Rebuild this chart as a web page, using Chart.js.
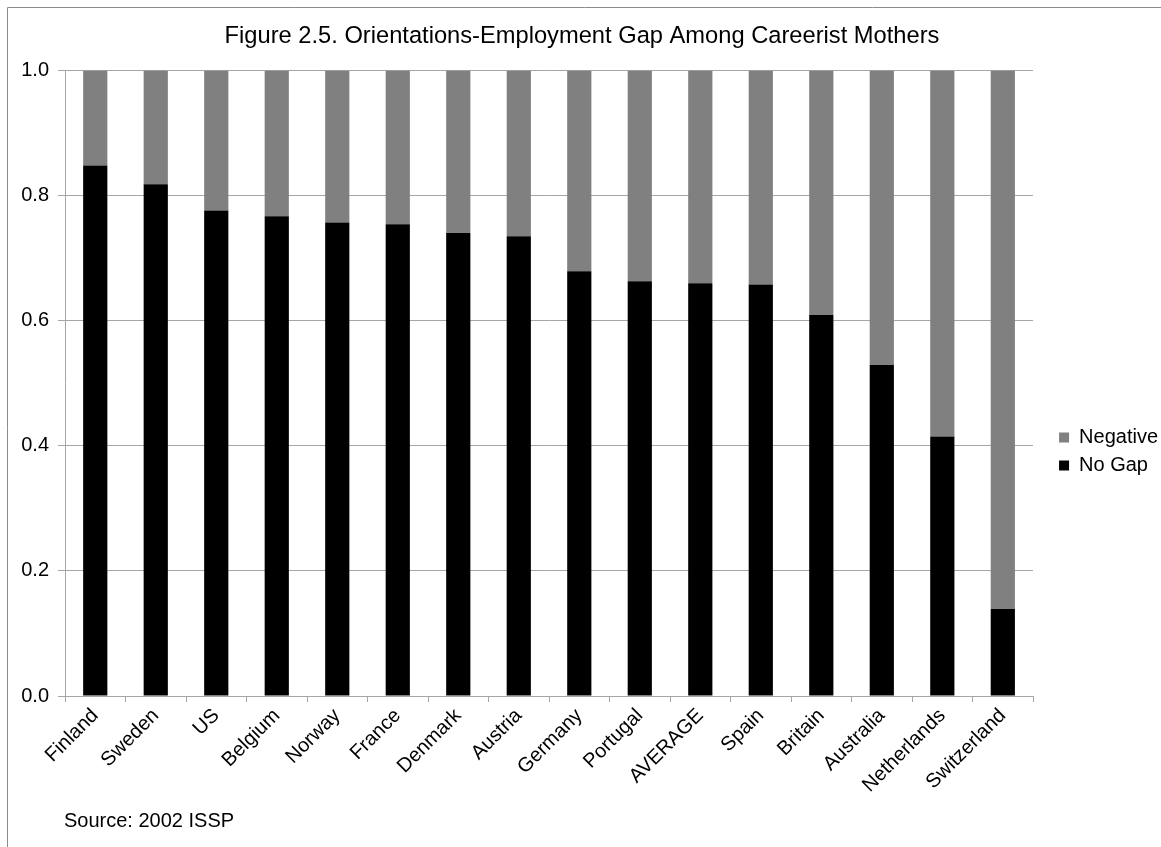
<!DOCTYPE html>
<html>
<head>
<meta charset="utf-8">
<title>Orientations-Employment Gap Among Careerist Mothers</title>
<script src="https://cdn.jsdelivr.net/npm/chart.js@4/dist/chart.umd.min.js"></script>
<style>
  body { margin: 0; background: #fff; }
  #wrap { width: 1161px; height: 847px; }
</style>
</head>
<body>
<div id="wrap"><canvas id="gapChart"></canvas></div>
<script>
// Pays (ordre du graphique)
const countries = ["Finland", "Sweden", "US", "Belgium", "Norway", "France", "Denmark", "Austria",
  "Germany", "Portugal", "AVERAGE", "Spain", "Britain", "Australia", "Netherlands", "Switzerland"];

// Part "No Gap"
const noGap = [0.848, 0.818, 0.776, 0.767, 0.757, 0.754, 0.740, 0.735,
  0.679, 0.663, 0.660, 0.658, 0.609, 0.529, 0.415, 0.139];

// Part "Negative" (le reste jusqu'à 1.0)
const negative = [0.152, 0.182, 0.224, 0.233, 0.243, 0.246, 0.260, 0.265,
  0.321, 0.337, 0.340, 0.342, 0.391, 0.471, 0.585, 0.861];

const yTicks = [0, 0.2, 0.4, 0.6, 0.8, 1.0];

const FONT = "'Liberation Sans', Arial, sans-serif";
const gridGray = "#a6a6a6";

// Cadre extérieur + source
const decorPlugin = {
  id: "decor",
  afterLayout(chart) {
    // décaler la légende comme dans l'original
    const lg = chart.legend;
    lg.left += 18; lg.right += 18;
    lg.top += 28; lg.bottom += 28;
  },
  afterDraw(chart) {
    const ctx = chart.ctx;
    ctx.save();
    ctx.strokeStyle = "#8c8c8c";
    ctx.lineWidth = 1;
    ctx.beginPath();
    ctx.moveTo(7.5, chart.height);
    ctx.lineTo(7.5, 7.5);
    ctx.lineTo(chart.width, 7.5);
    ctx.stroke();
    ctx.fillStyle = "#000";
    ctx.font = "20px " + FONT;
    ctx.textBaseline = "middle";
    ctx.fillText("Source: 2002 ISSP", 64, 821);
    ctx.restore();
  }
};

let ctx = document.getElementById("gapChart").getContext("2d");

new Chart(ctx, {
  type: "bar",
  data: {
    labels: countries,
    datasets: [
      {
        label: "No Gap",
        data: noGap,
        backgroundColor: "#000000",
        barPercentage: 0.4,
        categoryPercentage: 1.0
      },
      {
        label: "Negative",
        data: negative,
        backgroundColor: "#808080",
        barPercentage: 0.4,
        categoryPercentage: 1.0
      }
    ]
  },
  options: {
    responsive: true,
    maintainAspectRatio: false,
    animation: false,
    layout: { padding: { left: 14, right: 11, top: 0, bottom: 0 } },
    plugins: {
      title: {
        display: true,
        text: "Figure 2.5. Orientations-Employment Gap Among Careerist Mothers",
        color: "#000",
        font: { family: FONT, size: 23.7, weight: "normal" },
        padding: { top: 22, bottom: 20 }
      },
      legend: {
        position: "right",
        reverse: true,
        labels: {
          color: "#000",
          font: { family: FONT, size: 20 },
          boxWidth: 10,
          boxHeight: 10,
          padding: 8
        }
      },
      tooltip: { enabled: false }
    },
    scales: {
      x: {
        stacked: true,
        afterFit: function(s) { s.height = 151; },
        grid: {
          display: true,
          drawOnChartArea: false,
          offset: true,
          tickLength: 6,
          color: gridGray
        },
        border: { color: gridGray },
        ticks: {
          color: "#000",
          font: { family: FONT, size: 20 },
          minRotation: 45,
          maxRotation: 45,
          autoSkip: false,
          padding: 2
        }
      },
      y: {
        stacked: true,
        min: 0,
        max: 1,
        afterFit: function(s) { s.width = 51; },
        afterBuildTicks: function(s) { s.ticks = yTicks.map(v => ({ value: v })); },
        grid: { color: gridGray, tickLength: 7 },
        border: { color: gridGray },
        ticks: {
          color: "#000",
          font: { family: FONT, size: 20 },
          padding: 9,
          callback: function(v) { return Number(v).toFixed(1); }
        }
      }
    }
  },
  plugins: [decorPlugin]
});
</script>
</body>
</html>
